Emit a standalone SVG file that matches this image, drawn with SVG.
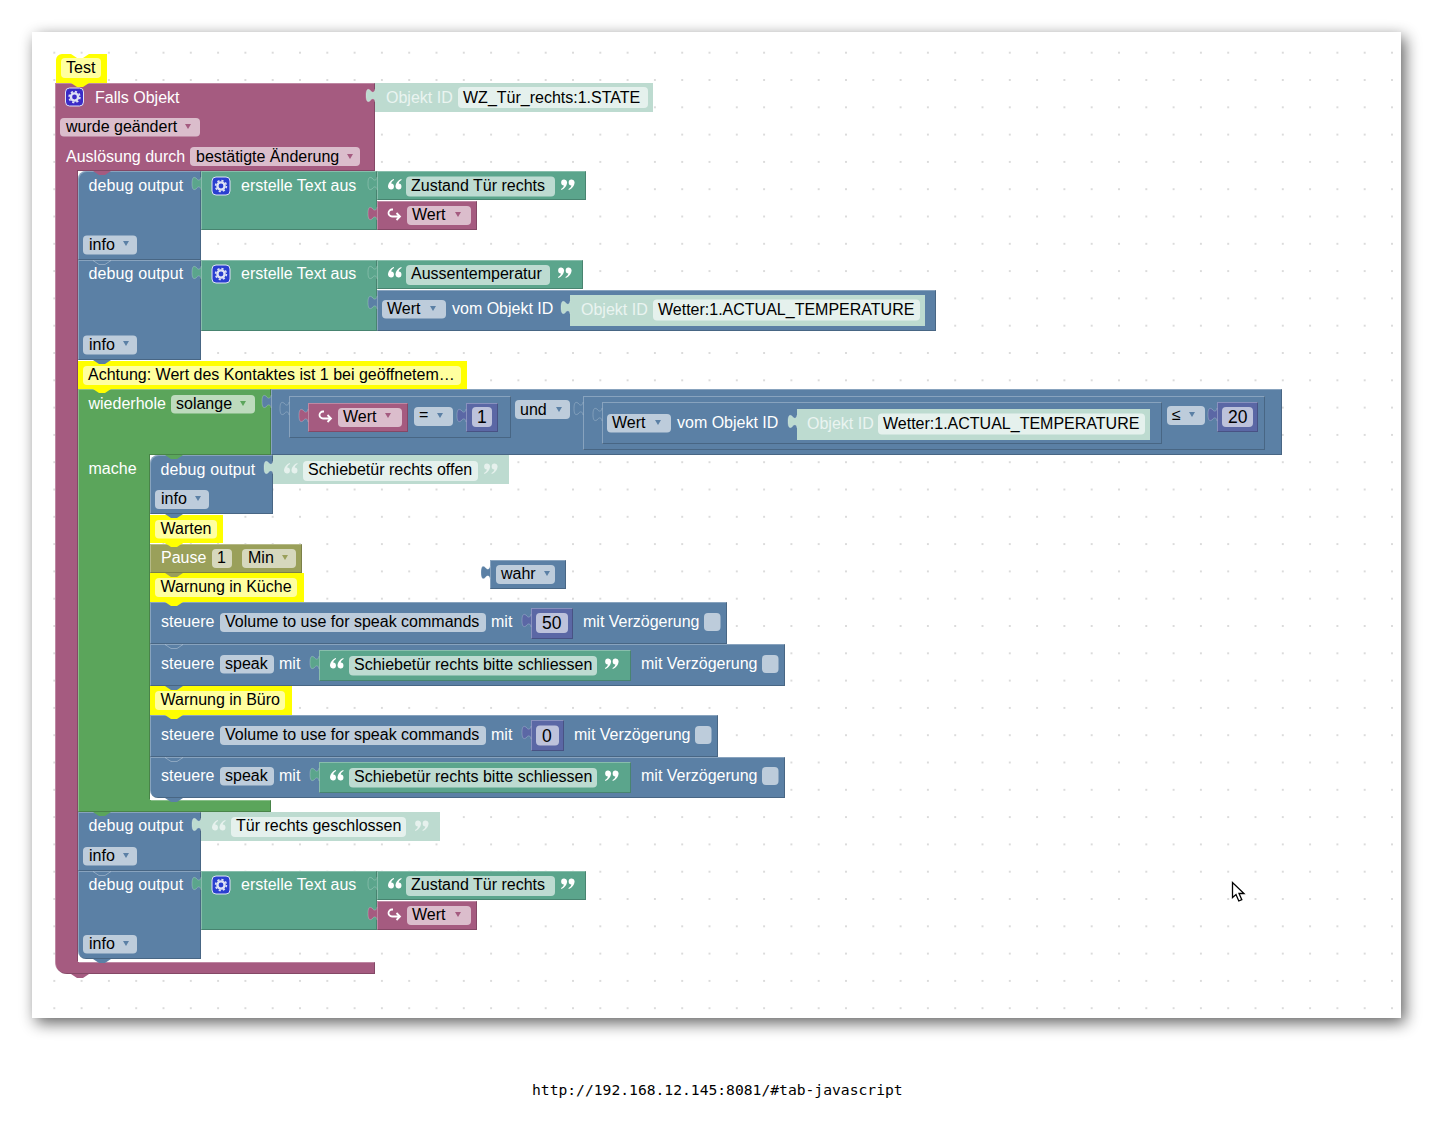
<svg xmlns="http://www.w3.org/2000/svg" width="1433" height="1130" viewBox="0 0 1433 1130">
<style>
text{font-family:"Liberation Sans",Arial,sans-serif;font-size:16px}
.t{fill:#000}.w{fill:#fff}.wl{fill:#eaf4f0}
.dbg{letter-spacing:.12px}
.num{font-size:17.5px}
.pur{fill:#a55b80}.blu{fill:#5b80a5}.grn{fill:#5ba58c}.lgr{fill:#bddbd0}.lop{fill:#5ba55b}.ind{fill:#5b67a5}.oli{fill:#9aa05a}.yel{fill:#ffff00}
.fp{fill:#dbbdcc}.fb{fill:#bdccdb}.fg{fill:#bddbd1}.fl{fill:#e5f1ed}.fo{fill:#bddbbd}.fy{fill:#ffff9f}.fi{fill:#bdc2db}.fa{fill:#d6d8bd}
.b{filter:url(#bev)}
.cap{font-family:"DejaVu Sans Mono",monospace;font-size:14.67px;fill:#000}
</style>
<defs>
<pattern id="dots" patternUnits="userSpaceOnUse" x="40.65" y="39.05" width="27.3" height="27.3"><circle cx="13.65" cy="13.65" r="1" fill="#cfcfcf"/></pattern>
<filter id="sh" x="-5%" y="-5%" width="110%" height="110%"><feGaussianBlur stdDeviation="8"/></filter>
<filter id="bev" x="-1%" y="-1%" width="102%" height="102%" color-interpolation-filters="sRGB">
<feOffset in="SourceAlpha" dx="1" dy="1" result="a"/>
<feComposite in="SourceAlpha" in2="a" operator="out" result="ra"/>
<feFlood flood-color="#fff" flood-opacity=".28"/><feComposite in2="ra" operator="in" result="lt"/>
<feOffset in="SourceAlpha" dx="-1" dy="-1" result="c"/>
<feComposite in="SourceAlpha" in2="c" operator="out" result="rc"/>
<feFlood flood-color="#000" flood-opacity=".2"/><feComposite in2="rc" operator="in" result="dk"/>
<feMerge><feMergeNode in="SourceGraphic"/><feMergeNode in="lt"/><feMergeNode in="dk"/></feMerge>
</filter>
<path id="tab" d="M0,1C-.5,5 -3,5 -5,2C-8,0 -9,3 -9,7.500C-9,12 -8,15 -5,13C-3,10 -.5,10 0,14" stroke="#fff" stroke-opacity=".28" stroke-width=".8"/>
<path id="n" d="M0,0l6,4h6l6,-4z"/>
<path id="nl" d="M0,0l6,4h6l6,-4" fill="none" stroke="#fff" stroke-opacity=".3"/>
<path id="dd" d="M0,0h6l-3,5z"/>
<g id="gear"><rect x="0" y="0" width="18" height="18" rx="4" stroke="#dfe3f5" stroke-width="1"/><circle cx="9" cy="9" r="3.600" fill="none" stroke="#dfe3f5" stroke-width="2.400"/><circle cx="9" cy="9" r="5.400" fill="none" stroke="#dfe3f5" stroke-width="1.600" stroke-dasharray="2.200 2"/></g>
<g id="qo"><path id="c1" d="M6 0C2.200 1.300 0 4.400 0 8a3 3 0 1 0 3.200-3.500c.2-1.400 1.300-2.700 2.800-3.500z"/><use href="#c1" x="7.500"/></g>
<g id="qc"><use href="#qo" transform="rotate(180 6.800 5.500)"/></g>
<path id="arr" d="M5,1.500H4a3.500,3.500 0 0 0 0,7H12M8.500,5l3.500,3.500l-3.500,3.500" fill="none" stroke="#fff" stroke-width="1.800"/>
</defs>

<rect x="36" y="37" width="1369" height="986" fill="#000" opacity=".62" filter="url(#sh)"/>
<rect x="32" y="32" width="1369" height="986" fill="#fff"/>
<rect x="32" y="32" width="1369" height="986" fill="url(#dots)"/>

<g id="connectors"></g>

<g id="falls">
<path class="pur b" d="M55,83H375V171H78V962H375V974H67a12,12 0 0 1 -12,-12z"/>
<use href="#n" x="71" y="974" class="pur"/>
<use href="#gear" x="65.500" y="88" fill="#3a2bc7"/>
<text x="95" y="103" class="w">Falls Objekt</text>
<rect x="60" y="118" width="140" height="18.500" rx="4" class="fp"/><text x="66" y="132" class="t">wurde geändert</text><use href="#dd" x="185" y="124" class="pur"/>
<text x="66" y="162" class="w">Auslösung durch</text>
<rect x="190" y="147" width="170" height="19" rx="4" class="fp"/><text x="196" y="162" class="t">bestätigte Änderung</text><use href="#dd" x="347" y="154" class="pur"/>
</g>
<g id="test-comment">
<path class="yel" d="M56,83V60a6,6 0 0 1 6,-6h9l6,4h6l6,-4h18V83z"/>
<use href="#n" x="71" y="83" class="yel"/>
<rect x="61" y="58" width="40" height="20" rx="4" class="fy"/><text x="66" y="73" class="t">Test</text>
</g>
<g id="obj1">
<rect x="375" y="83" width="278" height="29" class="lgr"/><use href="#tab" x="375" y="88" class="lgr"/>
<text x="386" y="103" class="wl">Objekt ID</text>
<rect x="458" y="87" width="190" height="21" rx="4" class="fl"/><text x="463" y="103" class="t">WZ_Tür_rechts:1.STATE</text>
</g>

<g id="debug1">
<path class="blu b" d="M78,260V179a8,8 0 0 1 8,-8H201V260z"/>
<use href="#n" x="93" y="171" class="pur"/>
<text x="88.500" y="191" class="w dbg">debug output</text>
<rect x="83" y="235.500" width="54" height="19" rx="4" class="fb"/><text x="89" y="250" class="t">info</text><use href="#dd" x="123" y="241" class="blu"/>
</g>
<g id="text1">
<rect x="201" y="171" width="176" height="59" class="grn b"/><use href="#tab" x="201" y="176" class="grn"/>
<use href="#gear" x="212" y="177" fill="#2a3fd0"/>
<text x="241" y="191" class="w">erstelle Text aus</text>
</g>
<g id="str1">
<rect x="377" y="171" width="209" height="29" class="grn b"/><use href="#tab" x="377" y="176" class="grn"/>
<use href="#qo" x="388" y="179" fill="#fff"/>
<rect x="406" y="176.500" width="149" height="20" rx="4" class="fg"/><text x="411" y="191" class="t">Zustand Tür rechts</text>
<use href="#qc" x="561" y="179" fill="#fff"/>
</g>
<g id="wert1">
<rect x="377" y="201" width="100" height="29" class="pur b"/><use href="#tab" x="377" y="206" class="pur"/>
<use href="#arr" x="388" y="208"/>
<rect x="407" y="206" width="64" height="19" rx="4" class="fp"/><text x="412" y="220" class="t">Wert</text><use href="#dd" x="455" y="212" class="pur"/>
</g>

<g id="debug2">
<rect x="78" y="260" width="123" height="100" class="blu b"/>
<use href="#nl" x="93" y="260.500"/>
<text x="88.500" y="279" class="w dbg">debug output</text>
<rect x="83" y="335.500" width="54" height="19" rx="4" class="fb"/><text x="89" y="350" class="t">info</text><use href="#dd" x="123" y="341" class="blu"/>
</g>
<g id="text2">
<rect x="201" y="260" width="176" height="71" class="grn b"/><use href="#tab" x="201" y="265" class="grn"/>
<use href="#gear" x="212" y="265" fill="#2a3fd0"/>
<text x="241" y="279" class="w">erstelle Text aus</text>
</g>
<g id="str2">
<rect x="377" y="260" width="206" height="29" class="grn b"/><use href="#tab" x="377" y="265" class="grn"/>
<use href="#qo" x="388" y="267" fill="#fff"/>
<rect x="406" y="265" width="144" height="20" rx="4" class="fg"/><text x="411" y="279" class="t">Aussentemperatur</text>
<use href="#qc" x="558" y="267" fill="#fff"/>
</g>
<g id="val2">
<rect x="377" y="290" width="559" height="41" class="blu b"/><use href="#tab" x="377" y="295" class="blu"/>
<rect x="382" y="300" width="64" height="18.500" rx="4" class="fb"/><text x="387" y="314" class="t">Wert</text><use href="#dd" x="430" y="306" class="blu"/>
<text x="452" y="314" class="w">vom Objekt ID</text>
</g>
<g id="obj2">
<rect x="570" y="295" width="355" height="31" class="lgr"/><use href="#tab" x="570" y="300" class="lgr"/>
<text x="581" y="315" class="wl">Objekt ID</text>
<rect x="653" y="299.500" width="267" height="21" rx="4" class="fl"/><text x="658" y="315" class="t">Wetter:1.ACTUAL_TEMPERATURE</text>
</g>

<g id="comment-achtung">
<rect x="78" y="361" width="389" height="28" class="yel"/><use href="#n" x="93" y="389" class="yel"/>
<use href="#n" x="93" y="360" class="blu"/>
<rect x="83" y="366" width="378" height="19" rx="4" class="fy"/><text x="88" y="380" class="t">Achtung: Wert des Kontaktes ist 1 bei geöffnetem…</text>
</g>

<g id="loop">
<path class="lop b" d="M78,389H271V455H150V800H271V812H78z"/>
<use href="#n" x="93" y="389" class="yel"/>
<text x="88.500" y="409" class="w">wiederhole</text>
<rect x="171" y="395" width="84" height="18.500" rx="4" class="fo"/><text x="176" y="409" class="t">solange</text><use href="#dd" x="240" y="401" class="lop"/>
<text x="88.500" y="474" class="w">mache</text>
</g>
<g id="and">
<rect x="271" y="389" width="1011" height="66" class="blu b"/><use href="#tab" x="271" y="394" class="blu"/>
<rect x="515" y="400" width="55" height="19" rx="4" class="fb"/><text x="520" y="415" class="t">und</text><use href="#dd" x="556" y="407" class="blu"/>
</g>
<g id="cmp1">
<rect x="289" y="396" width="222" height="42" class="blu b"/>
<use href="#tab" x="289" y="401" class="blu"/>
<rect x="414" y="407" width="39" height="19" rx="4" class="fb"/><text x="419" y="420" class="t">=</text><use href="#dd" x="437" y="413" class="blu"/>
</g>
<g id="wert2">
<rect x="308" y="403" width="100" height="29" class="pur b"/><use href="#tab" x="308" y="408" class="pur"/>
<use href="#arr" x="319" y="410"/>
<rect x="338" y="408" width="64" height="19" rx="4" class="fp"/><text x="343" y="422" class="t">Wert</text><use href="#dd" x="385" y="413" class="pur"/>
</g>
<g id="num1">
<rect x="466" y="403" width="32" height="29" class="ind b"/><use href="#tab" x="466" y="408" class="ind"/>
<rect x="472" y="407" width="20" height="20" rx="4" class="fi"/><text x="477" y="423" class="t num">1</text>
</g>
<g id="cmp2">
<rect x="583" y="396" width="682" height="54" class="blu b"/>
<use href="#tab" x="583" y="401" class="blu"/>
<rect x="1167" y="406" width="38" height="19" rx="4" class="fb"/><text x="1172" y="420" class="t">≤</text><use href="#dd" x="1189" y="412" class="blu"/>
</g>
<g id="val3">
<rect x="602" y="402" width="560" height="42" class="blu b"/>
<use href="#tab" x="602" y="407" class="blu"/>
<rect x="607" y="414" width="64" height="18.500" rx="4" class="fb"/><text x="612" y="428" class="t">Wert</text><use href="#dd" x="655" y="420" class="blu"/>
<text x="677" y="428" class="w">vom Objekt ID</text>
</g>
<g id="obj3">
<rect x="797" y="409" width="353" height="31" class="lgr"/><use href="#tab" x="797" y="414" class="lgr"/>
<text x="807" y="429" class="wl">Objekt ID</text>
<rect x="878" y="413.500" width="267" height="21" rx="4" class="fl"/><text x="883" y="429" class="t">Wetter:1.ACTUAL_TEMPERATURE</text>
</g>
<g id="num20">
<rect x="1217" y="402" width="41" height="30" class="ind b"/><use href="#tab" x="1217" y="407" class="ind"/>
<rect x="1222" y="407" width="31" height="20" rx="4" class="fi"/><text x="1228" y="423" class="t num">20</text>
</g>

<g id="debug3">
<path class="blu b" d="M150,514V463a8,8 0 0 1 8,-8H273V514z"/>
<use href="#n" x="165" y="455" class="lop"/>
<text x="160.500" y="475" class="w dbg">debug output</text>
<rect x="155" y="490" width="54" height="19" rx="4" class="fb"/><text x="161" y="504" class="t">info</text><use href="#dd" x="195" y="496" class="blu"/>
</g>
<g id="str3">
<rect x="273" y="455" width="236" height="29" class="lgr"/><use href="#tab" x="273" y="460" class="lgr"/>
<use href="#qo" x="284" y="463" fill="#e6f1ed"/>
<rect x="303" y="461" width="175" height="20" rx="4" class="fl"/><text x="308" y="475" class="t">Schiebetür rechts offen</text>
<use href="#qc" x="484" y="463" fill="#e6f1ed"/>
</g>
<g id="warten">
<rect x="150" y="515" width="73" height="28" class="yel"/><use href="#n" x="165" y="543" class="yel"/>
<use href="#n" x="165" y="514" class="blu"/>
<rect x="155" y="520" width="62" height="18.500" rx="4" class="fy"/><text x="160.500" y="534" class="t">Warten</text>
</g>
<g id="pause">
<rect x="150" y="544" width="152" height="29" class="oli b"/>
<use href="#n" x="165" y="543" class="yel"/>
<text x="161" y="563" class="w">Pause</text>
<rect x="212" y="549" width="20" height="19" rx="4" class="fa"/><text x="217" y="563" class="t">1</text>
<rect x="242" y="549" width="54" height="19" rx="4" class="fa"/><text x="248" y="563" class="t">Min</text><use href="#dd" x="282" y="555" class="oli"/>
</g>
<g id="warn-kueche">
<rect x="150" y="573" width="154" height="29" class="yel"/><use href="#n" x="165" y="602" class="yel"/>
<use href="#n" x="165" y="573" class="oli"/>
<rect x="155" y="578" width="142" height="19" rx="4" class="fy"/><text x="160.500" y="592" class="t">Warnung in Küche</text>
</g>
<g id="wahr">
<rect x="490" y="560" width="76" height="29" class="blu b"/><use href="#tab" x="490" y="565" class="blu"/>
<rect x="496" y="565" width="59" height="19" rx="4" class="fb"/><text x="501" y="579" class="t">wahr</text><use href="#dd" x="544" y="571" class="blu"/>
</g>

<g id="set1">
<rect x="150" y="602" width="577" height="42" class="blu b"/>
<use href="#n" x="165" y="602" class="yel"/>
<text x="161" y="627" class="w">steuere</text>
<rect x="220" y="613" width="266" height="19" rx="4" class="fb"/><text x="225" y="627" class="t">Volume to use for speak commands</text>
<text x="491" y="627" class="w">mit</text>
<text x="583" y="627" class="w">mit Verzögerung</text>
<rect x="704" y="613" width="16.500" height="18" rx="4" class="fb"/>
</g>
<g id="num50">
<rect x="531" y="608" width="42" height="31" class="ind b"/><use href="#tab" x="531" y="613" class="ind"/>
<rect x="536" y="613" width="32" height="20" rx="4" class="fi"/><text x="542" y="629" class="t num">50</text>
</g>
<g id="set2">
<rect x="150" y="644" width="635" height="42" class="blu b"/>
<use href="#nl" x="165" y="644.500"/>
<text x="161" y="669" class="w">steuere</text>
<rect x="220" y="655" width="54" height="18.500" rx="4" class="fb"/><text x="225" y="669" class="t">speak</text>
<text x="279" y="669" class="w">mit</text>
<text x="641" y="669" class="w">mit Verzögerung</text>
<rect x="762" y="655" width="16.500" height="18" rx="4" class="fb"/>
</g>
<g id="str4">
<rect x="319" y="650" width="312" height="31" class="grn b"/><use href="#tab" x="319" y="655" class="grn"/>
<use href="#qo" x="330" y="658" fill="#fff"/>
<rect x="349" y="656" width="248" height="19.500" rx="4" class="fg"/><text x="354" y="670" class="t">Schiebetür rechts bitte schliessen</text>
<use href="#qc" x="605" y="658" fill="#fff"/>
</g>
<g id="warn-buero">
<rect x="150" y="686" width="142" height="29" class="yel"/><use href="#n" x="165" y="715" class="yel"/>
<use href="#n" x="165" y="686" class="blu"/>
<rect x="155" y="691" width="130" height="19" rx="4" class="fy"/><text x="160.500" y="705" class="t">Warnung in Büro</text>
</g>
<g id="set3">
<rect x="150" y="715" width="568" height="42" class="blu b"/>
<use href="#n" x="165" y="715" class="yel"/>
<text x="161" y="740" class="w">steuere</text>
<rect x="220" y="726" width="266" height="19" rx="4" class="fb"/><text x="225" y="740" class="t">Volume to use for speak commands</text>
<text x="491" y="740" class="w">mit</text>
<text x="574" y="740" class="w">mit Verzögerung</text>
<rect x="695" y="726" width="16.500" height="18" rx="4" class="fb"/>
</g>
<g id="num0">
<rect x="531" y="720" width="33" height="31" class="ind b"/><use href="#tab" x="531" y="725" class="ind"/>
<rect x="536" y="725.500" width="23" height="20" rx="4" class="fi"/><text x="542" y="742" class="t num">0</text>
</g>
<g id="set4">
<path class="blu b" d="M150,757H785V798H158a8,8 0 0 1 -8,-8z"/>
<use href="#n" x="165" y="798" class="blu"/>
<use href="#nl" x="165" y="757.500"/>
<text x="161" y="781" class="w">steuere</text>
<rect x="220" y="767" width="54" height="18.500" rx="4" class="fb"/><text x="225" y="781" class="t">speak</text>
<text x="279" y="781" class="w">mit</text>
<text x="641" y="781" class="w">mit Verzögerung</text>
<rect x="762" y="767" width="16.500" height="18" rx="4" class="fb"/>
</g>
<g id="str5">
<rect x="319" y="762" width="312" height="31" class="grn b"/><use href="#tab" x="319" y="767" class="grn"/>
<use href="#qo" x="330" y="770" fill="#fff"/>
<rect x="349" y="768" width="248" height="19.500" rx="4" class="fg"/><text x="354" y="782" class="t">Schiebetür rechts bitte schliessen</text>
<use href="#qc" x="605" y="770" fill="#fff"/>
</g>

<g id="debug4">
<rect x="78" y="812" width="123" height="59" class="blu b"/>
<use href="#n" x="93" y="812" class="lop"/>
<text x="88.500" y="831" class="w dbg">debug output</text>
<rect x="83" y="847" width="54" height="18.500" rx="4" class="fb"/><text x="89" y="861" class="t">info</text><use href="#dd" x="123" y="853" class="blu"/>
</g>
<g id="str6">
<rect x="201" y="812" width="239" height="29" class="lgr"/><use href="#tab" x="201" y="817" class="lgr"/>
<use href="#qo" x="212" y="820" fill="#e6f1ed"/>
<rect x="231" y="817" width="175" height="20" rx="4" class="fl"/><text x="236" y="831" class="t">Tür rechts geschlossen</text>
<use href="#qc" x="415" y="820" fill="#e6f1ed"/>
</g>
<g id="debug5">
<path class="blu b" d="M78,871H201V959H86a8,8 0 0 1 -8,-8z"/>
<use href="#n" x="93" y="959" class="blu"/>
<use href="#nl" x="93" y="871.500"/>
<text x="88.500" y="890" class="w dbg">debug output</text>
<rect x="83" y="935" width="54" height="18.500" rx="4" class="fb"/><text x="89" y="949" class="t">info</text><use href="#dd" x="123" y="941" class="blu"/>
</g>
<g id="text3">
<rect x="201" y="871" width="176" height="59" class="grn b"/><use href="#tab" x="201" y="876" class="grn"/>
<use href="#gear" x="212" y="876" fill="#2a3fd0"/>
<text x="241" y="890" class="w">erstelle Text aus</text>
</g>
<g id="str7">
<rect x="377" y="871" width="209" height="29" class="grn b"/><use href="#tab" x="377" y="876" class="grn"/>
<use href="#qo" x="388" y="878" fill="#fff"/>
<rect x="406" y="876" width="149" height="20" rx="4" class="fg"/><text x="411" y="890" class="t">Zustand Tür rechts</text>
<use href="#qc" x="561" y="878" fill="#fff"/>
</g>
<g id="wert3">
<rect x="377" y="901" width="100" height="29" class="pur b"/><use href="#tab" x="377" y="906" class="pur"/>
<use href="#arr" x="388" y="908"/>
<rect x="407" y="906" width="64" height="19" rx="4" class="fp"/><text x="412" y="920" class="t">Wert</text><use href="#dd" x="455" y="912" class="pur"/>
</g>

<path id="cursor" d="M1232.500,882.500V897.500l3.500,-3l2.800,6.500l3,-1.300l-2.800,-6.200h5z" fill="#fff" stroke="#000" stroke-width="1.300"/>
<text x="532" y="1095" class="cap">http://192.168.12.145:8081/#tab-javascript</text>
</svg>
